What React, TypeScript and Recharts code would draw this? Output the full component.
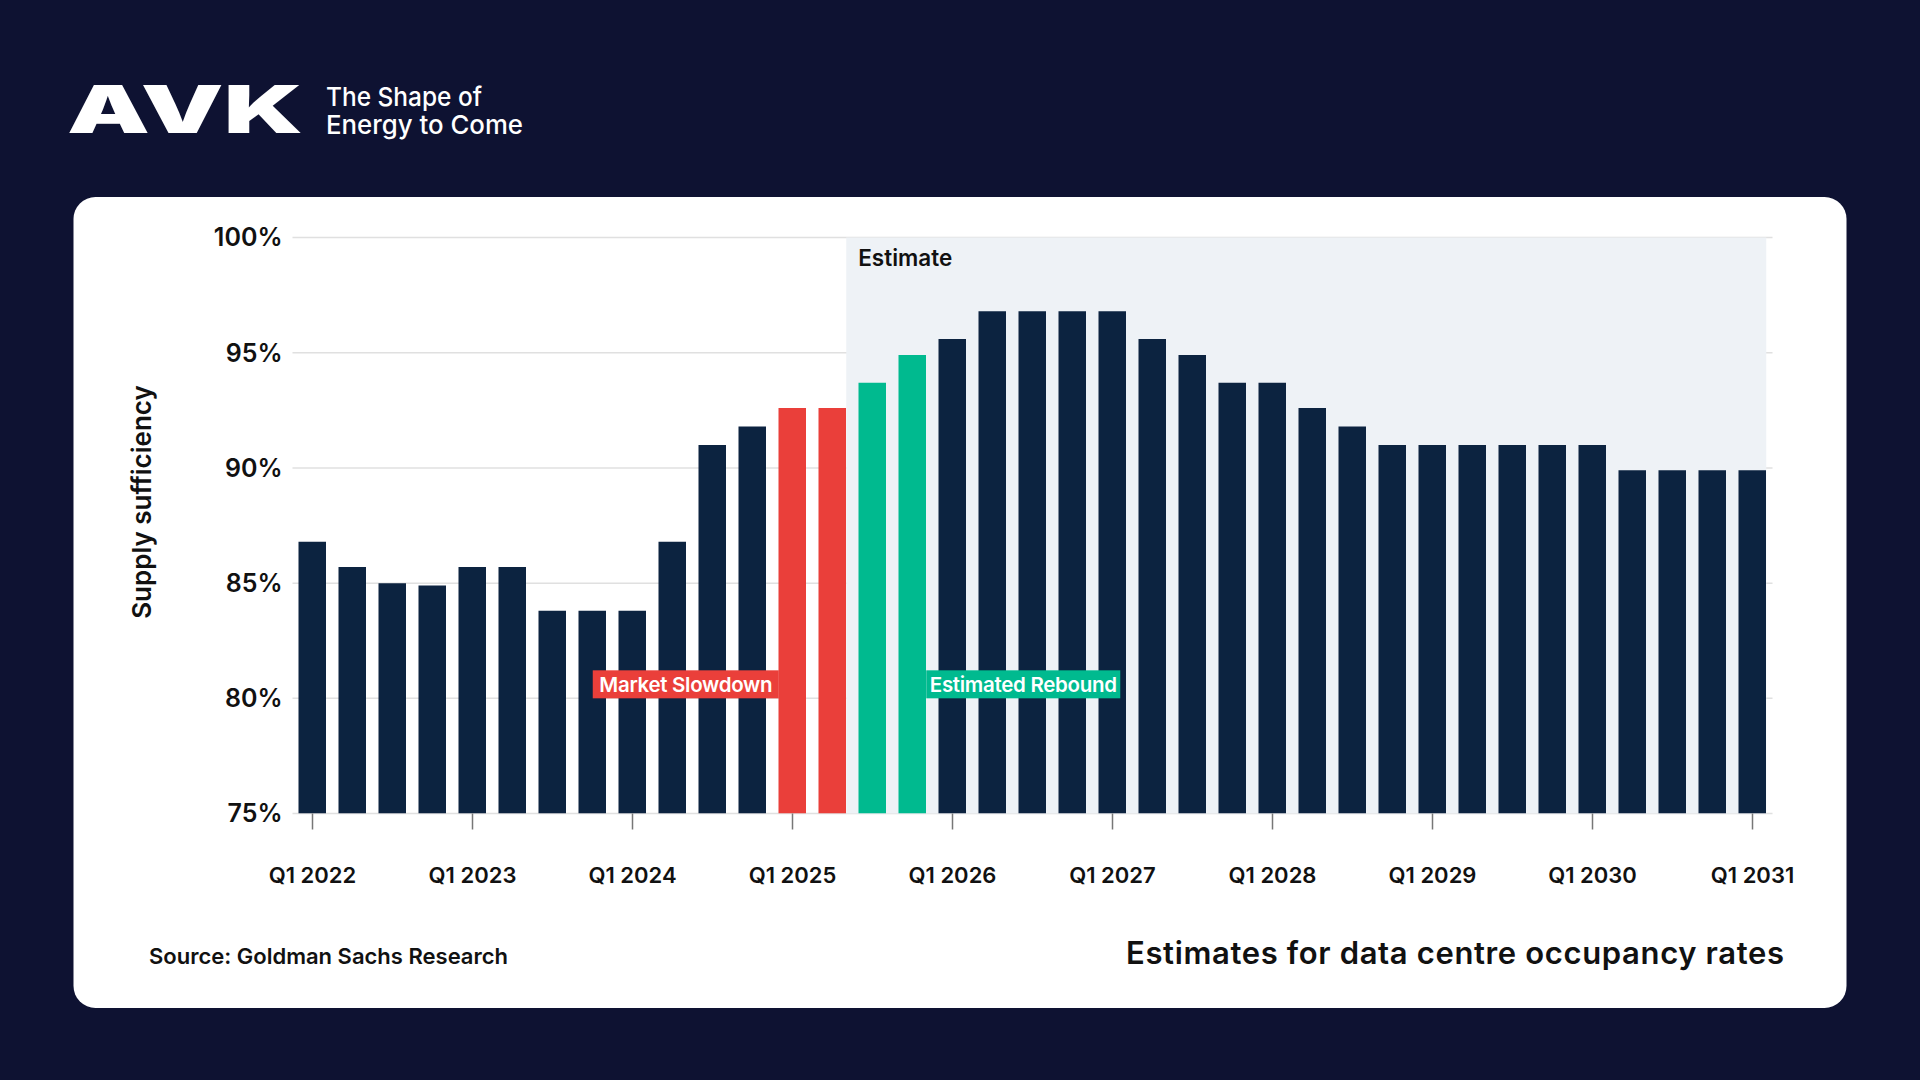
import React from 'react';
import { Bar, BarChart, CartesianGrid, Cell, ReferenceArea, ReferenceDot, XAxis, YAxis } from 'recharts';

const QUARTERS = [
    'Q1 2022', 'Q2 2022', 'Q3 2022', 'Q4 2022',
    'Q1 2023', 'Q2 2023', 'Q3 2023', 'Q4 2023',
    'Q1 2024', 'Q2 2024', 'Q3 2024', 'Q4 2024',
    'Q1 2025', 'Q2 2025', 'Q3 2025', 'Q4 2025',
    'Q1 2026', 'Q2 2026', 'Q3 2026', 'Q4 2026',
    'Q1 2027', 'Q2 2027', 'Q3 2027', 'Q4 2027',
    'Q1 2028', 'Q2 2028', 'Q3 2028', 'Q4 2028',
    'Q1 2029', 'Q2 2029', 'Q3 2029', 'Q4 2029',
    'Q1 2030', 'Q2 2030', 'Q3 2030', 'Q4 2030',
    'Q1 2031',
];

// supply sufficiency, %
const SUFFICIENCY = [
    86.8, 85.7, 85.0, 84.9,
    85.7, 85.7, 83.8, 83.8,
    83.8, 86.8, 91.0, 91.8,
    92.6, 92.6, 93.7, 94.9,
    95.6, 96.8, 96.8, 96.8,
    96.8, 95.6, 94.9, 93.7,
    93.7, 92.6, 91.8, 91.0,
    91.0, 91.0, 91.0, 91.0,
    91.0, 89.9, 89.9, 89.9,
    89.9,
];

const SLOWDOWN = ['Q1 2025', 'Q2 2025'];
const REBOUND = ['Q3 2025', 'Q4 2025'];
const ESTIMATE_FROM = 'Q3 2025';

const X_TICK_LABELS = ['Q1 2022', 'Q1 2023', 'Q1 2024', 'Q1 2025', 'Q1 2026', 'Q1 2027', 'Q1 2028', 'Q1 2029', 'Q1 2030', 'Q1 2031'];
const Y_TICKS = [75, 80, 85, 90, 95, 100];

const NAVY = '#0c2340';
const RED = '#ea3f3a';
const GREEN = '#00ba8f';
const BG = '#0e1232';
const FONT = 'Inter, "Open Sans", sans-serif';

const BAR_SIZE = 27.5;
const UNIT = 40; // px per quarter on the x scale
const HALF_BAR = BAR_SIZE / 2 / UNIT;

const data = QUARTERS.map((q, i) => ({ idx: i + 1, quarter: q, value: SUFFICIENCY[i] }));
const xTicks = X_TICK_LABELS.map((l) => QUARTERS.indexOf(l) + 1);
const pos = (q: string) => QUARTERS.indexOf(q) + 1;

const colorFor = (q: string) => {
    if (SLOWDOWN.includes(q)) return RED;
    if (REBOUND.includes(q)) return GREEN;
    return NAVY;
};

function Tag(props: any) {
    const { cx, cy, text, fill, side, width } = props;
    if (cx == null || cy == null) return null;
    const h = 28;
    const edge = side === 'left' ? cx - BAR_SIZE / 2 : cx + BAR_SIZE / 2;
    const x = side === 'left' ? edge - width : edge;
    return (
        <g>
            <rect x={x} y={cy - h} width={width} height={h} fill={fill} />
            <text
                x={x + width / 2}
                y={cy - h / 2 + 7.5}
                textAnchor="middle"
                fill="#fff"
                fontSize={20.5}
                fontWeight={600}
                fontFamily={FONT}
                letterSpacing={-0.3}
            >
                {text}
            </text>
        </g>
    );
}

export default function App() {
    return (
        <div style={{ position: 'absolute', left: 0, top: 0, width: 1920, height: 1080, background: BG, overflow: 'hidden' }}>
            <svg width={1920} height={1080} style={{ position: 'absolute', left: 0, top: 0 }}>
                <text x={67} y={133} fill="#fff" fontSize={66} fontWeight={900} fontFamily={FONT} textLength={236} lengthAdjust="spacingAndGlyphs">
                    AVK
                </text>
                <text x={326} y={106} fill="#fff" fontSize={26} fontWeight={500} fontFamily={FONT} textLength={156} lengthAdjust="spacingAndGlyphs">
                    The Shape of
                </text>
                <text x={326} y={134} fill="#fff" fontSize={26} fontWeight={500} fontFamily={FONT} textLength={197} lengthAdjust="spacingAndGlyphs">
                    Energy to Come
                </text>
                <rect x={73.5} y={197} width={1773} height={811} rx={22} fill="#fff" />
                <text
                    x={141}
                    y={502}
                    transform="rotate(-90 141 502)"
                    textAnchor="middle"
                    dominantBaseline="central"
                    fill="#111"
                    fontSize={26}
                    fontWeight={600}
                    fontFamily={FONT}
                >
                    Supply sufficiency
                </text>
                <text x={149} y={964} fill="#111" fontSize={22} fontWeight={600} fontFamily={FONT}>
                    Source: Goldman Sachs Research
                </text>
                <text x={1784} y={964} textAnchor="end" fill="#111" fontSize={31} fontWeight={600} fontFamily={FONT} textLength={658}>
                    Estimates for data centre occupancy rates
                </text>
            </svg>
            <div style={{ position: 'absolute', left: 0, top: 0 }}>
                <BarChart
                    width={1920}
                    height={1080}
                    data={data}
                    margin={{ top: 237.6, right: 147.5, bottom: 196.5, left: 192.5 }}
                    style={{ fontFamily: FONT }}
                >
                    <ReferenceArea
                        x1={pos(ESTIMATE_FROM) - 1 + HALF_BAR}
                        x2={QUARTERS.length + HALF_BAR}
                        y1={75}
                        y2={100}
                        fill="#eef2f6"
                        fillOpacity={1}
                        stroke="none"
                        ifOverflow="extendDomain"
                        label={{ value: 'Estimate', position: 'insideTopLeft', offset: 12, fill: '#111', fontSize: 22.5, fontWeight: 600 }}
                    />
                    <CartesianGrid vertical={false} stroke="#e0e0e0" strokeWidth={1.5} />
                    <XAxis
                        type="number"
                        dataKey="idx"
                        domain={[0.5, QUARTERS.length + 0.5]}
                        ticks={xTicks}
                        tickFormatter={(v) => QUARTERS[v - 1]}
                        height={70}
                        axisLine={false}
                        tickSize={16}
                        tickMargin={38}
                        tickLine={{ stroke: '#777', strokeWidth: 1.5 }}
                        tick={{ fill: '#111', fontSize: 22, fontWeight: 600 }}
                        interval={0}
                    />
                    <YAxis
                        type="number"
                        domain={[75, 100]}
                        ticks={Y_TICKS}
                        tickFormatter={(v) => `${v}%`}
                        width={100}
                        axisLine={false}
                        tickLine={false}
                        tickSize={0}
                        tickMargin={10}
                        tick={{ fill: '#111', fontSize: 25, fontWeight: 600 }}
                        allowDataOverflow
                    />
                    <Bar dataKey="value" barSize={BAR_SIZE} isAnimationActive={false}>
                        {data.map((d) => (
                            <Cell key={d.quarter} fill={colorFor(d.quarter)} />
                        ))}
                    </Bar>
                    <ReferenceDot
                        x={pos(SLOWDOWN[0])}
                        y={80}
                        r={0}
                        shape={(p: any) => <Tag {...p} text="Market Slowdown" fill={RED} side="left" width={186} />}
                    />
                    <ReferenceDot
                        x={pos(REBOUND[REBOUND.length - 1])}
                        y={80}
                        r={0}
                        shape={(p: any) => <Tag {...p} text="Estimated Rebound" fill={GREEN} side="right" width={194} />}
                    />
                </BarChart>
            </div>
        </div>
    );
}
